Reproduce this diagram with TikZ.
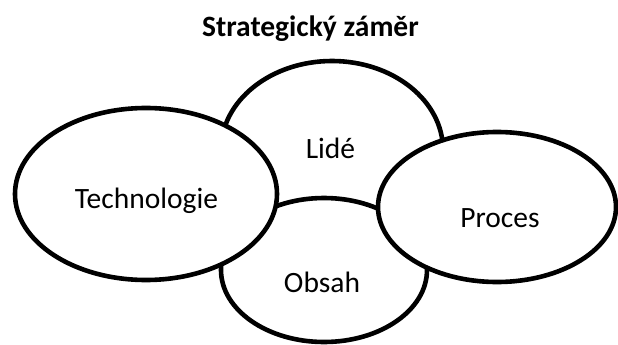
\documentclass[tikz,border=0pt]{standalone}
\usepackage{fontspec}
\setmainfont{Carlito}
\usetikzlibrary{shapes.geometric}
\begin{document}
\begin{tikzpicture}[x=1pt,y=-1pt,
  blob/.style={ellipse,draw=black,fill=white,line width=4.6pt,inner sep=0pt},
  lbl/.style={anchor=base,inner sep=0pt,font=\fontsize{29.5}{31}\selectfont},
  ttl/.style={anchor=base,inner sep=0pt,font=\fontsize{29.5}{31}\selectfont\bfseries}]
\useasboundingbox (0,0) rectangle (618,345);
% title
\node[ttl] (title) at (310.5,37) {Strategický záměr};
% the four overlapping ellipses, back to front
\node[blob,minimum width=222pt,minimum height=178pt] (lide) at (332,150) {};
\node[blob,minimum width=206pt,minimum height=144pt] (obsah) at (324,270) {};
\node[blob,minimum width=262pt,minimum height=172pt] (tech) at (146,194) {};
\node[blob,minimum width=238pt,minimum height=150pt] (proces) at (497,207) {};
% labels
\node[lbl] (tLide) at (330.5,158) {Lidé};
\node[lbl] (tObsah) at (322,292) {Obsah};
\node[lbl] (tTech) at (146.5,208) {Technologie};
\node[lbl] (tProces) at (500,227) {Proces};
\end{tikzpicture}
\end{document}
